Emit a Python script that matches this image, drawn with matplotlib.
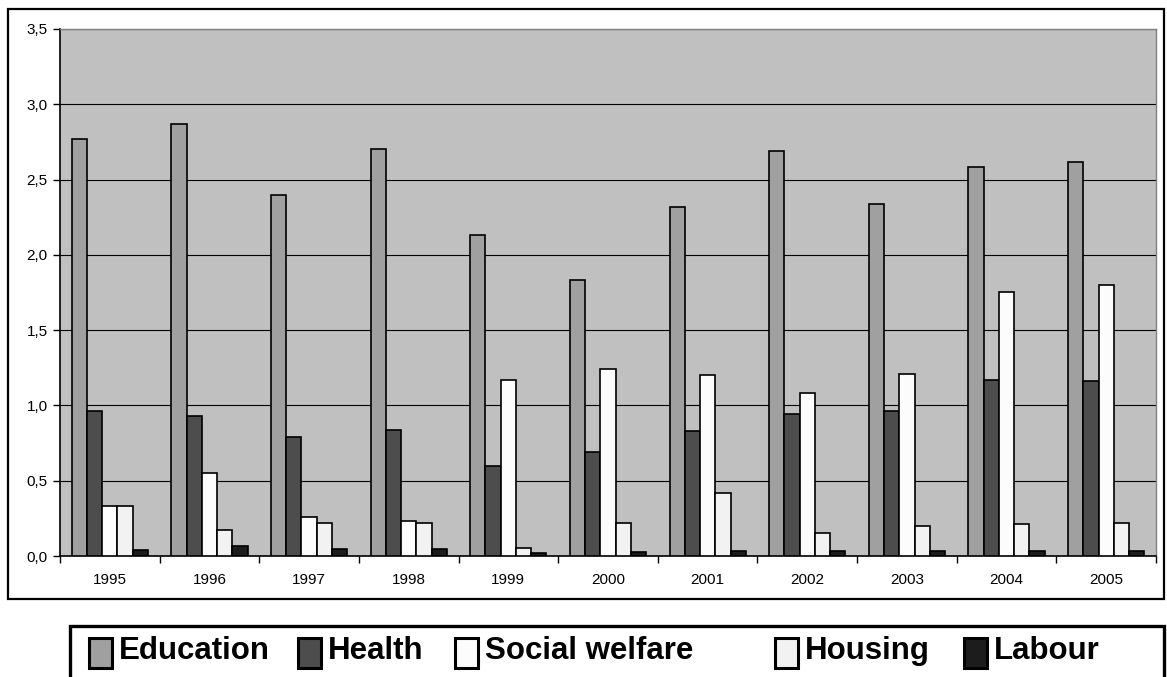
import numpy as np
import matplotlib.pyplot as plt
from matplotlib.patches import Rectangle

plt.rcParams['font.family'] = ['Liberation Sans', 'DejaVu Sans']

years = ['1995', '1996', '1997', '1998', '1999', '2000', '2001', '2002', '2003', '2004', '2005']
education = [2.77, 2.87, 2.40, 2.70, 2.13, 1.83, 2.32, 2.69, 2.34, 2.585, 2.62]
health = [0.96, 0.93, 0.79, 0.84, 0.60, 0.69, 0.83, 0.94, 0.96, 1.17, 1.16]
social_welfare = [0.335, 0.553, 0.257, 0.23, 1.17, 1.24, 1.20, 1.08, 1.21, 1.755, 1.80]
housing = [0.33, 0.17, 0.22, 0.22, 0.05, 0.22, 0.42, 0.155, 0.20, 0.21, 0.22]
labour = [0.04, 0.064, 0.045, 0.046, 0.02, 0.025, 0.03, 0.03, 0.03, 0.035, 0.035]

series = [('Education', education, '#a0a0a0'),
          ('Health', health, '#4d4d4d'),
          ('Social welfare', social_welfare, '#fcfcfc'),
          ('Housing', housing, '#f2f2f2'),
          ('Labour', labour, '#1c1c1c')]

W, H = 1167, 677
fig = plt.figure(figsize=(W / 100, H / 100), dpi=100)
ax = fig.add_axes([60 / W, 1 - 556 / H, (1156 - 60) / W, (556 - 29) / H])
ax.set_facecolor('#c0c0c0')

x = np.arange(len(years))
bw = 0.153
for k, (name, vals, col) in enumerate(series):
    ax.bar(x + (k - 2) * bw, vals, bw, color=col, edgecolor='black', linewidth=1.2, zorder=3)

ax.set_xlim(-0.5, len(years) - 0.5)
ax.set_ylim(0, 3.5)
yt = np.arange(0, 3.51, 0.5)
ax.set_yticks(yt)
ax.set_yticklabels([f'{v:.1f}'.replace('.', ',') for v in yt], fontsize=11)
ax.yaxis.grid(True, color='black', linewidth=0.8, zorder=0)
ax.set_axisbelow(True)

ax.set_xticks(x)
ax.set_xticklabels(years, fontsize=11)
ax.set_xticks(np.arange(-0.5, len(years)), minor=True)
ax.tick_params(axis='x', which='major', length=0, pad=12)
ax.tick_params(axis='x', which='minor', length=5, direction='out', width=1)
ax.tick_params(axis='y', length=5, direction='out', width=1, pad=4)

for s in ['top', 'right']:
    ax.spines[s].set_color('#808080')
    ax.spines[s].set_linewidth(1)
for s in ['left', 'bottom']:
    ax.spines[s].set_color('black')
    ax.spines[s].set_linewidth(1.2)

# outer chart frame
frame = Rectangle((8 / W, 1 - 599 / H), (1164 - 8) / W, (599 - 9) / H,
                  transform=fig.transFigure, fill=False, edgecolor='black', linewidth=1.6)
fig.patches.append(frame)

# legend box
leg = Rectangle((70 / W, 1 - 720 / H), (1164 - 70) / W, (720 - 626) / H,
                transform=fig.transFigure, fill=False, edgecolor='black', linewidth=2.4)
fig.patches.append(leg)
box_x = [89, 298, 455, 775, 964]
for (name, vals, col), bx in zip(series, box_x):
    fig.patches.append(Rectangle((bx / W, 1 - 668 / H), 23 / W, 30 / H,
                                 transform=fig.transFigure, facecolor=col,
                                 edgecolor='black', linewidth=2.2))
    fig.text((bx + 30) / W, 1 - 651 / H, name, fontsize=22.5, fontweight='bold',
             ha='left', va='center')

fig.savefig('out.png', dpi=100)
